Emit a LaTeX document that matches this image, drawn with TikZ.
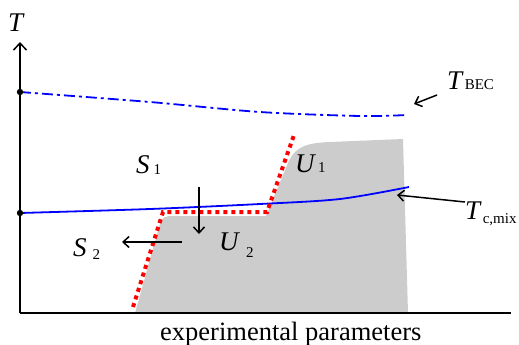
\documentclass[tikz,border=0pt]{standalone}
\usepackage{fontspec}
\setmainfont{Liberation Serif}
\usetikzlibrary{arrows.meta}
\tikzset{
  axisline/.style={line width=1.8pt, -{Straight Barb[length=7pt,width=13pt,line width=1.5pt]}},
  ptr/.style={line width=1.5pt, -{Straight Barb[length=6pt,width=11pt,line width=1.5pt]}},
  lab/.style={anchor=base west, inner sep=0pt, font=\fontsize{27}{30}\selectfont},
  redline/.style={red, line width=4pt, dash pattern=on 4pt off 4pt},
  becline/.style={blue, line width=1.8pt, dash pattern=on 11pt off 4pt on 3pt off 4pt},
  mixline/.style={blue, line width=1.8pt},
}
\newcommand{\sbs}[2]{\raisebox{-#1pt}{\fontsize{15}{16}\selectfont #2}}
\begin{document}
\begin{tikzpicture}[x=1pt,y=-1pt]
\useasboundingbox (0,0) rectangle (519,345);
% gray region
\fill[gray!40] (135,313) -- (160,224) .. controls (162,217) and (165,216) .. (173,216) -- (266,216)
  -- (288,163) .. controls (295,147) and (305,143) .. (330,142) -- (403,139) -- (408,313) -- cycle;
% axes
\coordinate (O) at (20,313);
\coordinate (Ytop) at (20,42);
\coordinate (Xend) at (511,313);
\draw[axisline] (O) -- (Ytop);
\draw[line width=1.8pt] (O) -- (Xend);
% T_BEC curve
\draw[becline] plot[smooth] coordinates {(20,92) (150,102) (260,112) (360,116) (407,115)};
% T_c,mix curve
\draw[mixline] plot[smooth] coordinates {(20,213) (150,209) (260,204) (340,199) (409,187)};
% red dotted boundary
\coordinate (r1) at (133,307);
\coordinate (r2) at (163,212);
\coordinate (r3) at (267,212);
\coordinate (r4) at (294,135);
\draw[redline] (r1) -- (r2) -- (r3) -- (r4);
% dots
\fill (20,92) circle (3.2pt);
\fill (20,213) circle (3.2pt);
% labels
\node[lab] (T) at (8,32) {\textit{T}};
\node[lab] (S1) at (136,173) {\textit{S}\hspace{4pt}\sbs{1}{1}};
\node[lab] (S2) at (73,256) {\textit{S}\hspace{6pt}\sbs{3}{2}};
\node[lab] (U2) at (219,250) {\textit{U}\hspace{6pt}\sbs{7}{2}};
\node[lab] (U1) at (295,172) {\textit{U}\hspace{2pt}\sbs{0}{1}};
\node[lab] (TB) at (447,89) {\textit{T}\hspace{1pt}\sbs{0}{BEC}};
\node[lab] (TC) at (465,219) {\textit{T}\hspace{1pt}\sbs{4}{c,mix}};
\node[anchor=base west, inner sep=0pt, font=\fontsize{26.5}{30}\selectfont] (xl) at (160,340) {experimental parameters};
% arrows
\coordinate (d1) at (199,187); \coordinate (d2) at (199,234);
\draw[ptr] (d1) -- (d2);
\coordinate (l1) at (182,242); \coordinate (l2) at (122,242);
\draw[ptr] (l1) -- (l2);
\coordinate (b1) at (437,95); \coordinate (b2) at (414,104);
\draw[ptr] (b1) -- (b2);
\coordinate (c1) at (465,202); \coordinate (c2) at (397,195);
\draw[ptr] (c1) -- (c2);
\end{tikzpicture}
\end{document}
